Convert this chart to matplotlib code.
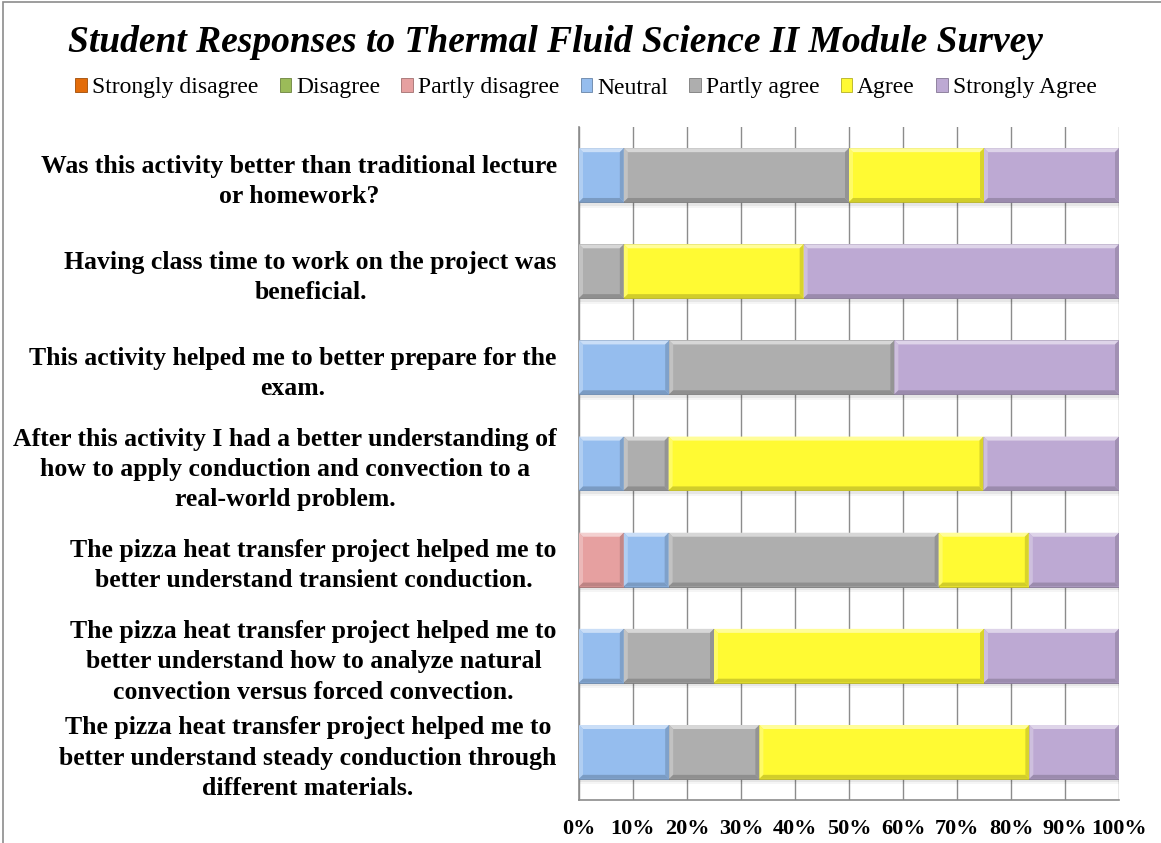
import matplotlib
matplotlib.use("Agg")
import matplotlib.pyplot as plt
from matplotlib.patches import Polygon, Rectangle
import matplotlib.colors as mcolors
import numpy as np

plt.rcParams['font.family'] = ['Liberation Serif', 'DejaVu Serif']

# survey questions, top to bottom
questions = [
    "Was this activity better than traditional lecture\nor homework?",
    "Having class time to work on the project was\nbeneficial.",
    "This activity helped me to better prepare for the\nexam.",
    "After this activity I had a better understanding of\nhow to apply conduction and convection to a\nreal-world problem.",
    "The pizza heat transfer project helped me to\nbetter understand transient conduction.",
    "The pizza heat transfer project helped me to\nbetter understand how to analyze natural\nconvection versus forced convection.",
    "The pizza heat transfer project helped me to\nbetter understand steady conduction through\ndifferent materials.",
]

responses = ["Strongly disagree", "Disagree", "Partly disagree", "Neutral",
             "Partly agree", "Agree", "Strongly Agree"]

# percent of students, per question (same order as questions)
strongly_disagree = [0, 0, 0, 0, 0, 0, 0]
disagree = [0, 0, 0, 0, 0, 0, 0]
partly_disagree = [0, 0, 0, 0, 8.3, 0, 0]
neutral = [8.3, 0, 16.7, 8.3, 8.3, 8.3, 16.7]
partly_agree = [41.7, 8.3, 41.7, 8.3, 50.0, 16.7, 16.7]
agree = [25.0, 33.3, 0, 58.3, 16.7, 50.0, 50.0]
strongly_agree = [25.0, 58.4, 41.6, 25.1, 16.7, 25.0, 16.6]

series = [strongly_disagree, disagree, partly_disagree, neutral,
          partly_agree, agree, strongly_agree]
colors = ["#E36C0A", "#9BBB59", "#E6A0A0", "#95BDEE", "#AEAEAE", "#FFFA33", "#BDA9D3"]

W, H = 11.61, 8.43
fig = plt.figure(figsize=(W, H), dpi=100)
ax_w, ax_h = 540, 673
ax = fig.add_axes([579 / 1161, 43 / 843, ax_w / 1161, ax_h / 843])

n = len(questions)
ypos = np.arange(n)[::-1]  # first question on top
bar_h = 0.56

ax.set_xlim(0, 100)
ax.set_ylim(-0.5, n - 0.5)

# bevel size in data units
bev_px = 4
dx = bev_px / (ax_w / 100)
dy = bev_px / (ax_h / n)


def shade(c, f):
    r, g, b = mcolors.to_rgb(c)
    if f > 0:
        return (r + (1 - r) * f, g + (1 - g) * f, b + (1 - b) * f)
    return (r * (1 + f), g * (1 + f), b * (1 + f))


def bevel_bar(x0, w, yc, c):
    if w <= 0:
        return
    x1 = x0 + w
    y0 = yc - bar_h / 2
    y1 = yc + bar_h / 2
    # soft shadow
    for k, a in [(1.4, 0.04), (0.9, 0.06)]:
        ax.add_patch(Rectangle((x0 + 0.2, y0 - dy * k), w, bar_h, facecolor="#000000",
                               alpha=a, lw=0, zorder=2))
    ax.add_patch(Rectangle((x0, y0), w, bar_h, facecolor=c, edgecolor=shade(c, -0.3),
                           lw=0.6, zorder=3))
    ax.add_patch(Polygon([(x0, y1), (x1, y1), (x1 - dx, y1 - dy), (x0 + dx, y1 - dy)],
                         facecolor=shade(c, 0.5), lw=0, zorder=4))
    ax.add_patch(Polygon([(x0, y0), (x0, y1), (x0 + dx, y1 - dy), (x0 + dx, y0 + dy)],
                         facecolor=shade(c, 0.25), lw=0, zorder=4))
    ax.add_patch(Polygon([(x0, y0), (x1, y0), (x1 - dx, y0 + dy), (x0 + dx, y0 + dy)],
                         facecolor=shade(c, -0.18), lw=0, zorder=4))
    ax.add_patch(Polygon([(x1, y0), (x1, y1), (x1 - dx, y1 - dy), (x1 - dx, y0 + dy)],
                         facecolor=shade(c, -0.15), lw=0, zorder=4))


left = np.zeros(n)
for vals, c in zip(series, colors):
    vals = np.array(vals, dtype=float)
    for i in range(n):
        bevel_bar(left[i], vals[i], ypos[i], c)
    left += vals

# legend proxies
handles = [Rectangle((0, 0), 1, 1, facecolor=c, edgecolor=shade(c, -0.3), lw=0.6)
           for c in colors]
fig.legend(handles, responses, loc="center", bbox_to_anchor=(586 / 1161, 1 - 88 / 843), ncol=7,
           frameon=False, fontsize=17, handlelength=0.5, handleheight=0.5,
           handletextpad=0.2, columnspacing=0.9)

fig.text(555 / 1161, 1 - 42 / 843, "Student Responses to Thermal Fluid Science II Module Survey",
         ha="center", va="center", fontsize=27, fontweight="bold", fontstyle="italic")

ax.set_xticks(np.arange(0, 101, 10))
ax.set_xticklabels([f"{v}%" for v in range(0, 101, 10)], fontsize=16, fontweight="bold")
ax.set_yticks(ypos)
ax.set_yticklabels(questions, fontsize=18.5, fontweight="bold", multialignment="center",
                   linespacing=1.4)
ax.tick_params(axis="x", length=0, pad=14)
ax.tick_params(axis="y", length=0, pad=16)
ax.xaxis.grid(True, color="#8c8c8c", lw=1)
ax.set_axisbelow(True)
for s in ["top", "right"]:
    ax.spines[s].set_visible(False)
for s in ["left", "bottom"]:
    ax.spines[s].set_color("#8c8c8c")
    ax.spines[s].set_linewidth(1.2)

# outer chart frame
fig.add_artist(Rectangle((3 / 1161, -0.1), 1.2, 1.1 - 2 / 843, transform=fig.transFigure,
                         fill=False, edgecolor="#8c8c8c", lw=1.2))

fig.savefig("out.png", dpi=100)
